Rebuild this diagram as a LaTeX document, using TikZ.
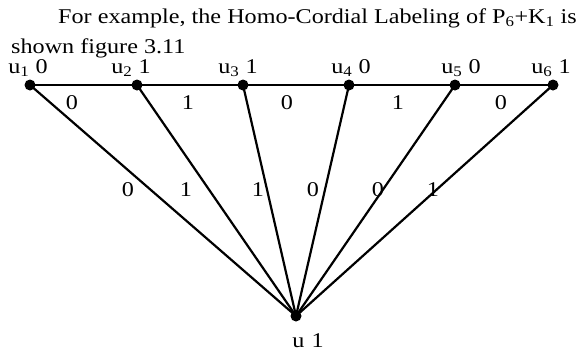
\documentclass[tikz,border=0pt]{standalone}
\usepackage{fontspec}
\setmainfont{Liberation Serif}
\usetikzlibrary{positioning}

\tikzset{
  vtx/.style={circle, fill=black, inner sep=0pt, minimum size=11pt},
  txt/.style={inner sep=0pt, anchor=base, xscale=1.15, font=\fontsize{21}{24}\selectfont},
  edg/.style={line width=2.2pt},
}

\begin{document}
\begin{tikzpicture}[x=1pt, y=-1pt]
  \useasboundingbox (0,0) rectangle (579,354);
  % caption text
  \node[txt, anchor=base west] (line1) at (58,23) {For example, the Homo-Cordial Labeling of P\textsubscript{6}+K\textsubscript{1} is};
  \node[txt, anchor=base west] (line2) at (11,53) {shown figure 3.11};
  % path vertices and the apex
  \foreach \i/\x in {1/30, 2/137, 3/243, 4/349, 5/455, 6/553}
    \node[vtx] (u\i) at (\x,85) {};
  \node[vtx] (u) at (296,316) {};
  % vertex labels
  \foreach \i/\x/\l in {1/28/0, 2/131/1, 3/238/1, 4/351/0, 5/461/0, 6/551/1}
    \node[txt] (lu\i) at (\x,73) {u\textsubscript{\i}\hspace{0.25em}\l};
  \node[txt] (lu) at (308,347) {u\hspace{0.3em}1};
  % edges of the path and spokes
  \foreach \a/\b in {1/2, 2/3, 3/4, 4/5, 5/6}
    \draw[edg] (u\a.center) -- (u\b.center);
  \foreach \i in {1,...,6}
    \draw[edg] (u\i.center) -- (u.center);
  % edge labels
  \foreach \j/\x/\l in {1/72/0, 2/188/1, 3/287/0, 4/398/1, 5/501/0}
    \node[txt] (pe\j) at (\x,109) {\l};
  \foreach \j/\x/\l in {1/128/0, 2/186/1, 3/258/1, 4/313/0, 5/378/0, 6/433/1}
    \node[txt] (se\j) at (\x,196) {\l};
\end{tikzpicture}
\end{document}
